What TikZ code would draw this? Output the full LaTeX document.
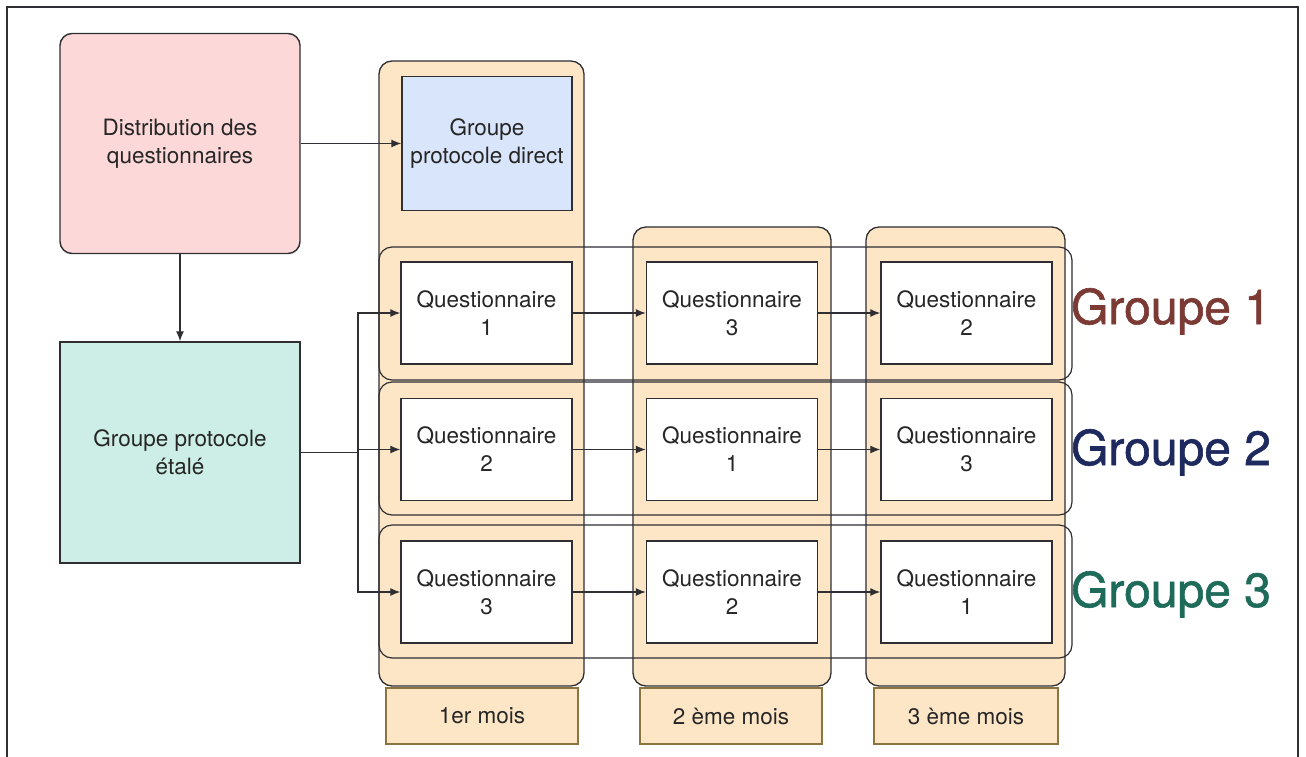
\documentclass[tikz,border=0pt]{standalone}
\usepackage{fontspec}
\setmainfont{TeX Gyre Heros}
\newfontfamily\grpfont[BoldFont=*, BoldFeatures={FakeBold=1.2}]{TeX Gyre Heros}
\usetikzlibrary{arrows.meta}
\definecolor{pinkf}{HTML}{FDD8D8}
\definecolor{tealf}{HTML}{CDEEE6}
\definecolor{bluef}{HTML}{D8E5FB}
\definecolor{peach}{HTML}{FDE6C6}
\definecolor{monthb}{HTML}{8C7440}
\definecolor{edge}{HTML}{2E2E33}
\definecolor{gone}{HTML}{7B3A33}
\definecolor{gtwo}{HTML}{1E2A5E}
\definecolor{gthree}{HTML}{1F6B5A}
\tikzset{
  lbl/.style={font=\fontsize{22.5}{28}\selectfont, align=center, text=black!85},
  plainbox/.style={draw=edge, line width=1.4pt, inner sep=0pt, lbl},
  qbox/.style={plainbox, fill=white, minimum width=171pt, minimum height=102pt},
  column/.style={draw=edge, line width=1.3pt, fill=peach, rounded corners=13pt},
  rowrect/.style={draw=edge, line width=1.2pt, rounded corners=13pt},
  monthbox/.style={draw=monthb, line width=2.6pt, fill=peach, inner sep=0pt, minimum height=56pt, lbl},
  arr/.style={draw=edge, line width=1.3pt, -{Latex[length=10pt,width=8pt]}},
  con/.style={draw=edge, line width=1.3pt},
  grp/.style={font=\grpfont\bfseries\fontsize{48}{55}\selectfont, anchor=base}
}
\begin{document}
\begin{tikzpicture}[x=1pt,y=-1pt]
\useasboundingbox (0,0) rectangle (1306,756);
\fill[white] (0,0) rectangle (1306,756);
% outer frame
\draw[edge, line width=1.5pt] (7,770) -- (7,7) -- (1298,7) -- (1298,770);

% left boxes
\node[plainbox, fill=pinkf, rounded corners=12pt, minimum width=240pt, minimum height=220pt] (dist) at (180,143.5) {Distribution des\\questionnaires};
\node[plainbox, fill=tealf, minimum width=240pt, minimum height=221pt] (etale) at (180,452.5) {Groupe protocole\\étalé};

% columns
\draw[column] (379,61) rectangle (584,686);
\draw[column] (633,227) rectangle (831,686);
\draw[column] (866,227) rectangle (1065,686);

% row rectangles
\draw[rowrect] (379,247) rectangle (1072,380);
\draw[rowrect] (379,382) rectangle (1072,515);
\draw[rowrect] (379,525) rectangle (1072,658);

% direct group
\node[plainbox, fill=bluef, minimum width=170pt, minimum height=134pt] (direct) at (487,143.5) {Groupe\\protocole direct};

% questionnaires
\node[qbox] (q11) at (486.5,313) {Questionnaire\\1};
\node[qbox] (q12) at (732,313) {Questionnaire\\3};
\node[qbox] (q13) at (966.5,313) {Questionnaire\\2};
\node[qbox] (q21) at (486.5,449.5) {Questionnaire\\2};
\node[qbox] (q22) at (732,449.5) {Questionnaire\\1};
\node[qbox] (q23) at (966.5,449.5) {Questionnaire\\3};
\node[qbox] (q31) at (486.5,592) {Questionnaire\\3};
\node[qbox] (q32) at (732,592) {Questionnaire\\2};
\node[qbox] (q33) at (966.5,592) {Questionnaire\\1};

% months
\node[monthbox, minimum width=192pt] (m1) at (482,716) {1er mois};
\node[monthbox, minimum width=182pt] (m2) at (731,716) {2 ème mois};
\node[monthbox, minimum width=184pt] (m3) at (966,716) {3 ème mois};

% group labels
\node[grp, text=gone] (g1) at (1171,324) {Groupe 1};
\node[grp, text=gtwo] (g2) at (1171,465) {Groupe 2};
\node[grp, text=gthree] (g3) at (1171,607) {Groupe 3};

% connectors
\draw[arr] (dist.east) -- (direct.west);
\draw[arr] (dist.south) -- (etale.north);
\coordinate (split) at (358,452.5);
\draw[con] (etale.east) -- (split);
\draw[arr] (split) |- (q11.west);
\draw[arr] (split) |- (q21.west);
\draw[arr] (split) |- (q31.west);
\draw[arr] (q11) -- (q12);
\draw[arr] (q12) -- (q13);
\draw[arr] (q21) -- (q22);
\draw[arr] (q22) -- (q23);
\draw[arr] (q31) -- (q32);
\draw[arr] (q32) -- (q33);
\end{tikzpicture}
\end{document}
